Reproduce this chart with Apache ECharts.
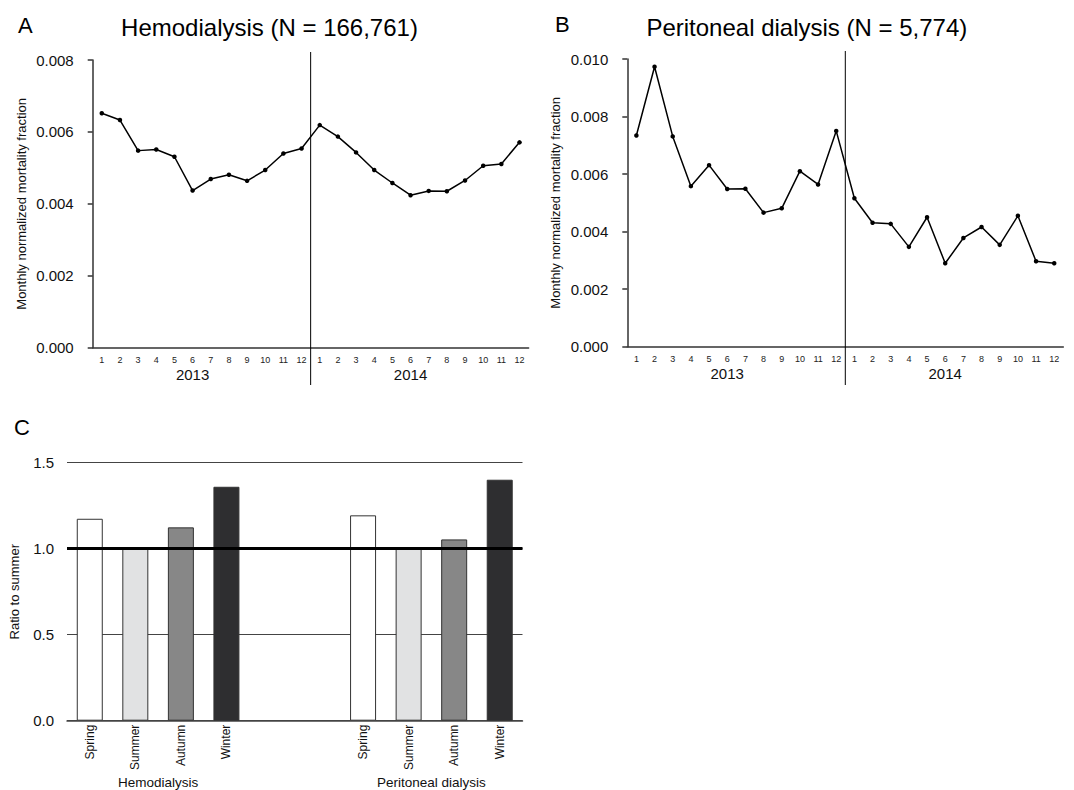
<!DOCTYPE html>
<html>
<head>
<meta charset="utf-8">
<script src="https://cdn.jsdelivr.net/npm/echarts@6/dist/echarts.min.js"></script>
<style>
html,body{margin:0;padding:0;background:#fff;}
#chart{width:1074px;height:790px;}
</style>
</head>
<body>
<div id="chart"></div>
<script>
// ---- data ----
const months = ['1','2','3','4','5','6','7','8','9','10','11','12','1','2','3','4','5','6','7','8','9','10','11','12'];
const years = ['2013', '2014'];
const hemoMonthly = [0.00652, 0.00633, 0.00548, 0.00551, 0.00531, 0.00437, 0.00469, 0.00481, 0.00464, 0.00494, 0.00540, 0.00554,
                     0.00619, 0.00587, 0.00543, 0.00494, 0.00458, 0.00424, 0.00436, 0.00435, 0.00465, 0.00506, 0.00511, 0.00571];
const periMonthly = [0.00734, 0.00973, 0.00731, 0.00558, 0.00631, 0.00548, 0.00549, 0.00466, 0.00481, 0.00610, 0.00564, 0.00750,
                     0.00516, 0.00431, 0.00427, 0.00347, 0.00450, 0.00290, 0.00378, 0.00416, 0.00354, 0.00455, 0.00297, 0.00290];
const seasons = ['Spring', 'Summer', 'Autumn', 'Winter'];
const groups = ['Hemodialysis', 'Peritoneal dialysis'];
const hemoRatio = [1.174, 1.0, 1.124, 1.360];
const periRatio = [1.194, 1.0, 1.054, 1.401];
const titleA = 'Hemodialysis (N = 166,761)';
const titleB = 'Peritoneal dialysis (N = 5,774)';
const yNameLine = 'Monthly normalized mortality fraction';
const yNameBar = 'Ratio to summer';

// ---- styles ----
const FONT = 'Liberation Sans, Arial, Helvetica, sans-serif';
const seasonColors = ['#ffffff', '#e1e2e3', '#878787', '#2e2e30'];
const axisColor = '#333';

const barCats = seasons.concat(['', '']).concat(seasons);
const barData = hemoRatio.map((v, i) => ({value: v, itemStyle: {color: seasonColors[i]}}))
  .concat(['-', '-'])
  .concat(periRatio.map((v, i) => ({value: v, itemStyle: {color: seasonColors[i]}})));

const chart = echarts.init(document.getElementById('chart'), null, {renderer: 'svg'});

function monthAxis(grid) {
  return {
    type: 'category', gridIndex: grid, data: months, boundaryGap: true,
    axisLine: {lineStyle: {color: axisColor, width: 1.5}},
    axisTick: {show: false},
    axisLabel: {fontSize: 9, margin: 8, interval: 0, color: '#222', fontFamily: FONT}
  };
}
function yearAxis(grid) {
  return {
    type: 'category', gridIndex: grid, data: months, boundaryGap: true, position: 'bottom',
    axisLine: {show: false}, axisTick: {show: false}, splitLine: {show: false},
    axisLabel: {
      fontSize: 15, margin: 19.5, interval: 0, color: '#111', fontFamily: FONT,
      formatter: (v, idx) => idx === 5 ? years[0] : (idx === 17 ? years[1] : '')
    }
  };
}
function lineYAxis(grid, max) {
  return {
    type: 'value', gridIndex: grid, min: 0, max: max, interval: 0.002,
    axisLine: {show: true, lineStyle: {color: axisColor, width: 1.5}},
    axisTick: {show: true, length: 5, lineStyle: {color: axisColor, width: 1.5}},
    splitLine: {show: false},
    axisLabel: {fontSize: 15, margin: 19, color: '#111', fontFamily: FONT, formatter: v => v.toFixed(3)},
    name: yNameLine, nameLocation: 'middle', nameGap: 65,
    nameTextStyle: {fontSize: 13, color: '#111', fontFamily: FONT}
  };
}
function lineSeries(idx, data) {
  return {
    type: 'line', xAxisIndex: idx * 2, yAxisIndex: idx, data: data,
    symbol: 'circle', symbolSize: 4.5, showSymbol: true,
    lineStyle: {color: '#000', width: 1.5}, itemStyle: {color: '#000'},
    silent: true, animation: false
  };
}

const option = {
  animation: false,
  backgroundColor: '#fff',
  textStyle: {fontFamily: FONT},
  grid: [
    {left: 92.7, top: 60, width: 435.9, height: 287.7},
    {left: 627.3, top: 59, width: 436, height: 287.7},
    {left: 67, top: 462.7, width: 455.5, height: 258}
  ],
  xAxis: [
    monthAxis(0), yearAxis(0),
    monthAxis(1), yearAxis(1),
    {
      type: 'category', gridIndex: 2, data: barCats, boundaryGap: true,
      axisLine: {lineStyle: {color: '#444', width: 1.5}},
      axisTick: {show: false},
      axisLabel: {rotate: 90, fontSize: 12, margin: 4, interval: 0, color: '#111', fontFamily: FONT}
    },
    {
      type: 'value', gridIndex: 2, min: 0, max: 10, interval: 1, position: 'bottom',
      axisLine: {show: false}, axisTick: {show: false}, splitLine: {show: false},
      axisLabel: {
        fontSize: 13.5, margin: 55, color: '#111', fontFamily: FONT,
        showMinLabel: true, showMaxLabel: true,
        formatter: v => v === 2 ? groups[0] : (v === 8 ? groups[1] : '')
      }
    }
  ],
  yAxis: [
    lineYAxis(0, 0.008),
    lineYAxis(1, 0.010),
    {
      type: 'value', gridIndex: 2, min: 0, max: 1.5, interval: 0.5,
      axisLine: {show: false}, axisTick: {show: false},
      splitLine: {show: true, lineStyle: {color: '#444', width: 1}},
      axisLabel: {fontSize: 15, margin: 13, color: '#111', fontFamily: FONT, formatter: v => v.toFixed(1)},
      name: yNameBar, nameLocation: 'middle', nameGap: 46,
      nameTextStyle: {fontSize: 13, color: '#111', fontFamily: FONT}
    }
  ],
  series: [
    lineSeries(0, hemoMonthly),
    lineSeries(1, periMonthly),
    {
      type: 'bar', xAxisIndex: 4, yAxisIndex: 2, data: barData, barWidth: 26,
      itemStyle: {borderColor: '#333', borderWidth: 1},
      silent: true,
      markLine: {
        silent: true, symbol: 'none', label: {show: false},
        lineStyle: {color: '#000', width: 3, type: 'solid'},
        data: [{yAxis: 1}]
      }
    }
  ],
  graphic: [
    {type: 'text', id: 'lA', left: 18, top: 14, style: {text: 'A', font: '22px ' + FONT, fill: '#000'}},
    {type: 'text', id: 'lB', left: 555, top: 13, style: {text: 'B', font: '22px ' + FONT, fill: '#000'}},
    {type: 'text', id: 'lC', left: 14, top: 416, style: {text: 'C', font: '22px ' + FONT, fill: '#000'}},
    {type: 'text', id: 'tA', x: 269.5, y: 27, style: {text: titleA, font: '24px ' + FONT, fill: '#000', align: 'center', verticalAlign: 'middle'}},
    {type: 'text', id: 'tB', x: 806.8, y: 27, style: {text: titleB, font: '24px ' + FONT, fill: '#000', align: 'center', verticalAlign: 'middle'}}
  ]
};
chart.setOption(option);

// year separator lines, positioned through the axis scale
function sepX(gridIndex) {
  const a = chart.convertToPixel({xAxisIndex: gridIndex * 2}, 11);
  const b = chart.convertToPixel({xAxisIndex: gridIndex * 2}, 12);
  return (a + b) / 2;
}
const xa = sepX(0), xb = sepX(1);
chart.setOption({
  graphic: [
    {type: 'line', id: 'sepA', shape: {x1: xa, y1: 52, x2: xa, y2: 385}, style: {stroke: '#000', lineWidth: 1}, z: 10},
    {type: 'line', id: 'sepB', shape: {x1: xb, y1: 51, x2: xb, y2: 385}, style: {stroke: '#000', lineWidth: 1}, z: 10}
  ]
});
</script>
</body>
</html>
